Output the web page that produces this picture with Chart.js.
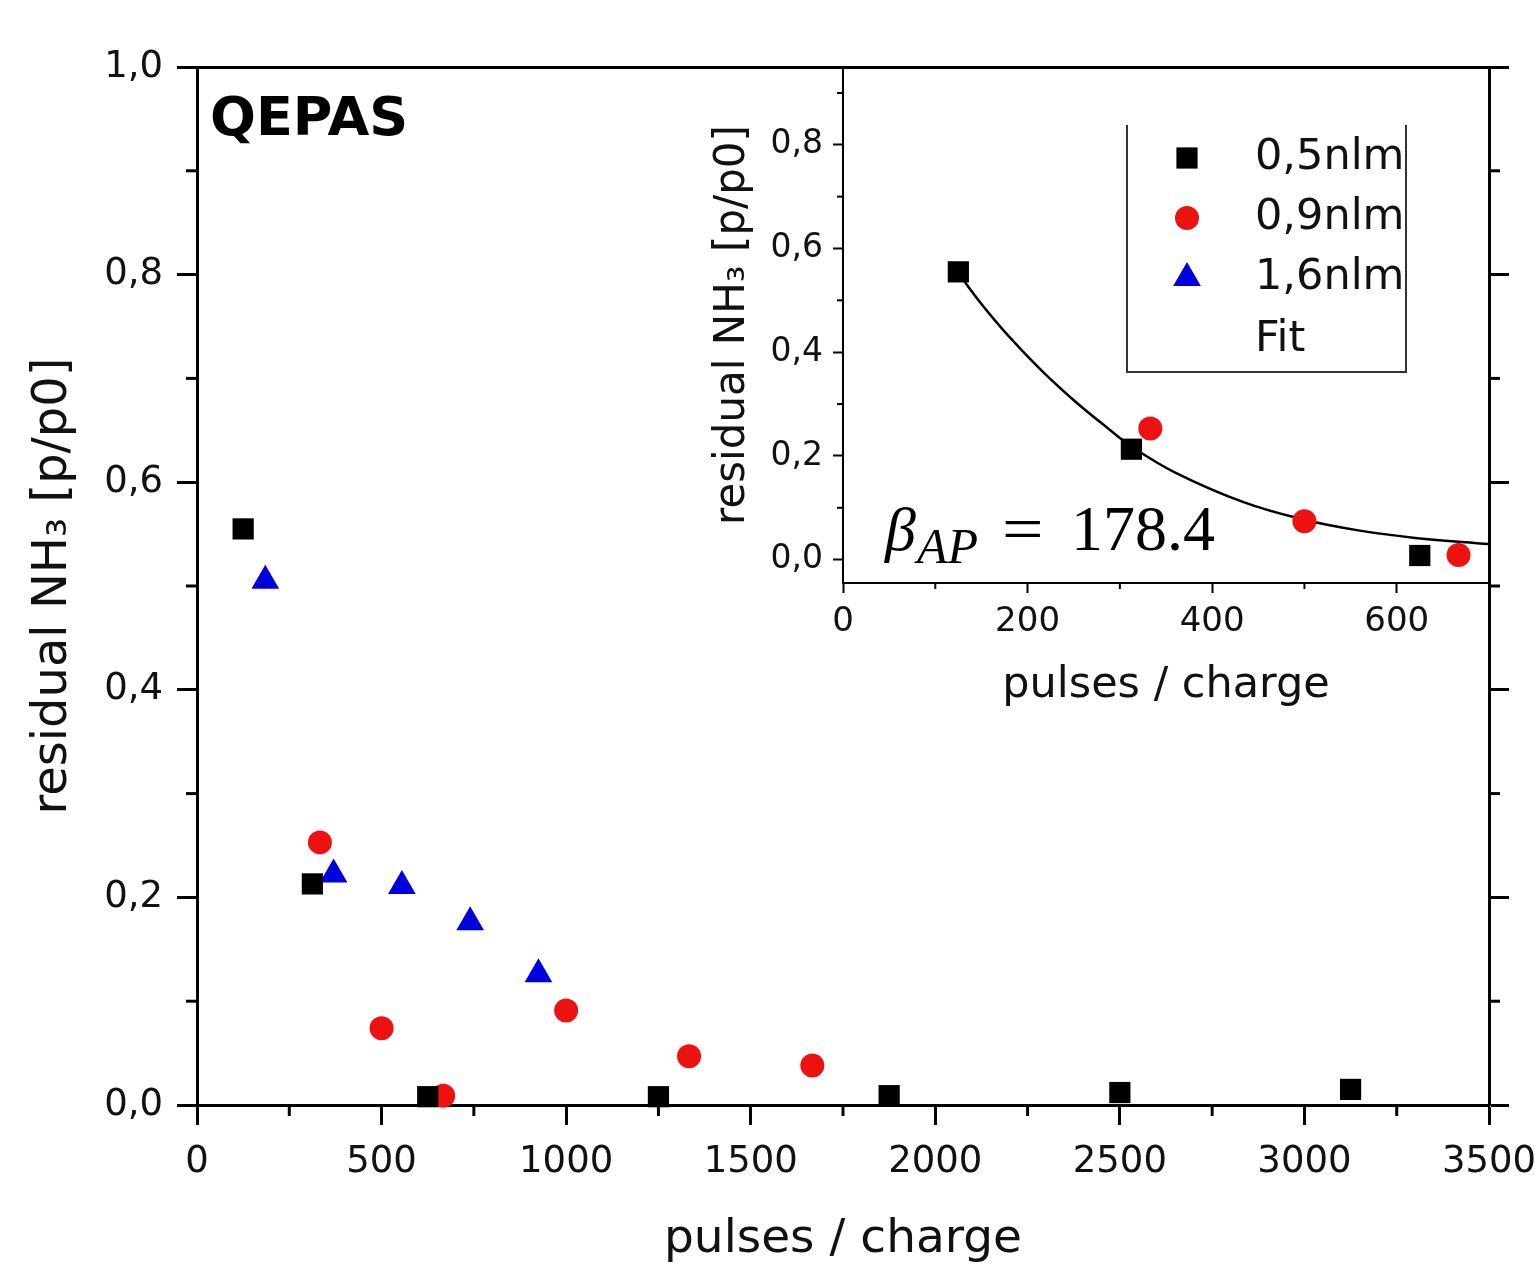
<!DOCTYPE html>
<html>
<head>
<meta charset="utf-8">
<title>QEPAS residual NH3</title>
<script src="https://cdn.jsdelivr.net/npm/chart.js@4.4.1/dist/chart.umd.min.js"></script>
<style>
  html, body { margin: 0; padding: 0; background: #fff; }
  #wrap { position: relative; width: 1535px; height: 1264px; overflow: hidden; background: #fff; }
  #mainChart { position: absolute; left: 0; top: 0; }
  #insetChart { position: absolute; left: 690px; top: 40px; }
</style>
</head>
<body>
<div id="wrap">
  <canvas id="mainChart" width="1535" height="1264"></canvas>
  <canvas id="insetChart" width="845" height="690"></canvas>
</div>
<script>
// --- data ---
const x05 = [125, 312.5, 625, 1250, 1875, 2500, 3125];
const y05 = [0.555, 0.213, 0.008, 0.008, 0.009, 0.012, 0.015];

const x09 = [333, 500, 667, 1000, 1333, 1667];
const y09 = [0.253, 0.074, 0.009, 0.091, 0.047, 0.038];

const x16 = [185, 370, 555, 740, 925];
const y16 = [0.505, 0.222, 0.211, 0.176, 0.126];

// fit curve of the inset (beta_AP = 178.4)
const fitX = [128, 150, 179, 215, 251, 288, 313, 360, 434, 500, 560, 620, 700];
const fitY = [0.545, 0.493, 0.432, 0.365, 0.306, 0.252, 0.218, 0.168, 0.111, 0.077, 0.056, 0.042, 0.030];

// ticks
const mainXTicks = [0, 500, 1000, 1500, 2000, 2500, 3000, 3500];
const mainXMinor = [250, 750, 1250, 1750, 2250, 2750, 3250];
const mainYTicks = [0, 0.2, 0.4, 0.6, 0.8, 1.0];
const mainYMinor = [0.1, 0.3, 0.5, 0.7, 0.9];
const insetXTicks = [0, 200, 400, 600];
const insetXMinor = [100, 300, 500];
const insetYTicks = [0, 0.2, 0.4, 0.6, 0.8];
const insetYMinor = [0.1, 0.3, 0.5, 0.7, 0.9];

const FONT = '"DejaVu Sans", sans-serif';
Chart.defaults.font.family = FONT;
Chart.defaults.color = '#111';

const BLACK = '#000000';
const RED = '#ee1111';
const BLUE = '#0000dd';

const pts = (xs, ys) => xs.map((x, i) => ({ x: x, y: ys[i] }));
const upTo = (xs, ys, lim) => pts(xs, ys).filter(p => p.x <= lim);
const comma = v => v.toFixed(1).replace('.', ',');
const fixTicks = vals => s => { s.ticks = vals.map(v => ({ value: v })); };

// fix the box size of an axis and drop the extra label padding
const sizeW = w => s => { s.width = w; s.paddingTop = 0; s.paddingBottom = 0; };
const sizeH = h => s => { s.height = h; s.paddingLeft = 0; s.paddingRight = 0; };

function axisStyle(len, w) {
  return {
    border: { display: true, color: '#000', width: w },
    grid: { display: true, drawOnChartArea: false, drawTicks: true, tickLength: len, tickWidth: w, tickColor: '#000' }
  };
}
function frameOnly(w) {
  return {
    border: { display: true, color: '#000', width: w },
    grid: { display: false, drawTicks: false },
    ticks: { display: false }
  };
}

// short ticks between the labelled ones
function minorTicks(list) {
  return {
    id: 'minorTicks',
    beforeDatasetsDraw(chart) {
      const ctx = chart.ctx;
      ctx.save();
      ctx.strokeStyle = '#000';
      list.forEach(m => {
        const s = chart.scales[m.id];
        ctx.lineWidth = m.width;
        m.values.forEach(v => {
          const p = s.getPixelForValue(v);
          ctx.beginPath();
          if (s.position === 'bottom') { ctx.moveTo(p, s.top); ctx.lineTo(p, s.top + m.len); }
          else if (s.position === 'left') { ctx.moveTo(s.right, p); ctx.lineTo(s.right - m.len, p); }
          else { ctx.moveTo(s.left, p); ctx.lineTo(s.left + m.len, p); }
          ctx.stroke();
        });
      });
      ctx.restore();
    }
  };
}

const qepasLabel = {
  id: 'qepasLabel',
  afterDraw(chart) {
    const ctx = chart.ctx;
    ctx.save();
    ctx.font = 'bold 54px ' + FONT;
    ctx.fillStyle = '#000';
    ctx.textBaseline = 'alphabetic';
    ctx.fillText('QEPAS', 210, 135);
    ctx.restore();
  }
};

// === main chart ===
new Chart(document.getElementById('mainChart'), {
  type: 'scatter',
  data: {
    datasets: [
      { label: '0,5nlm', data: pts(x05, y05), pointStyle: 'rect', pointRadius: 15, backgroundColor: BLACK, borderColor: BLACK, borderWidth: 0, clip: false },
      { label: '0,9nlm', data: pts(x09, y09), pointStyle: 'circle', pointRadius: 12, backgroundColor: RED, borderColor: RED, borderWidth: 0, clip: false },
      { label: '1,6nlm', data: pts(x16, y16), pointStyle: 'triangle', pointRadius: 16, backgroundColor: BLUE, borderColor: BLUE, borderWidth: 0, clip: false }
    ]
  },
  options: {
    responsive: false,
    animation: false,
    layout: { padding: 0 },
    plugins: { legend: { display: false }, tooltip: { enabled: false } },
    scales: {
      x: {
        type: 'linear', position: 'bottom', min: 0, max: 3500,
        afterBuildTicks: fixTicks(mainXTicks),
        afterFit: sizeH(159),
        ticks: { font: { size: 37 }, padding: 15, maxRotation: 0, autoSkip: false, callback: v => String(v) },
        title: { display: true, text: 'pulses / charge', font: { size: 47, lineHeight: 1 }, padding: { top: 0, bottom: 1 } },
        ...axisStyle(20, 3)
      },
      y: {
        type: 'linear', position: 'left', min: 0, max: 1,
        afterBuildTicks: fixTicks(mainYTicks),
        afterFit: sizeW(197),
        ticks: { font: { size: 37 }, padding: 14, autoSkip: false, callback: v => comma(v) },
        title: { display: true, text: 'residual NH₃ [p/p0]', font: { size: 48, lineHeight: 1 }, padding: { top: 30, bottom: 0 } },
        ...axisStyle(20, 3)
      },
      x2: {
        type: 'linear', position: 'top', min: 0, max: 3500,
        afterFit: sizeH(67),
        ...frameOnly(3)
      },
      y2: {
        type: 'linear', position: 'right', min: 0, max: 1,
        afterBuildTicks: fixTicks(mainYTicks),
        afterFit: sizeW(46),
        ticks: { display: false },
        ...axisStyle(20, 3)
      }
    }
  },
  plugins: [
    minorTicks([
      { id: 'x', values: mainXMinor, len: 11, width: 3 },
      { id: 'y', values: mainYMinor, len: 11, width: 3 },
      { id: 'y2', values: mainYMinor, len: 11, width: 3 }
    ]),
    qepasLabel
  ]
});

// === inset: legend and fit parameter ===
const insetNotes = {
  id: 'insetNotes',
  afterDraw(chart) {
    const ctx = chart.ctx;
    ctx.save();
    // legend frame (sides and bottom)
    ctx.strokeStyle = '#333';
    ctx.lineWidth = 2;
    ctx.beginPath();
    ctx.moveTo(437, 85); ctx.lineTo(437, 332); ctx.lineTo(716, 332); ctx.lineTo(716, 85);
    ctx.stroke();
    const rows = [118, 178, 238, 300];
    chart.data.datasets.forEach((ds, i) => {
      const y = rows[Math.min(i, 3)];
      if (ds.pointStyle && !ds.showLine) {
        ctx.fillStyle = ds.backgroundColor;
        Chart.helpers.drawPoint(ctx, {
          pointStyle: ds.pointStyle, radius: ds.pointRadius, rotation: 0, borderWidth: 0
        }, 497, y);
      }
      ctx.fillStyle = '#111';
      ctx.font = '43px ' + FONT;
      ctx.textBaseline = 'middle';
      ctx.textAlign = 'left';
      ctx.fillText(ds.label, 565, y);
    });
    // beta_AP = 178.4
    ctx.fillStyle = '#000';
    ctx.textBaseline = 'alphabetic';
    ctx.font = 'italic 62px "Liberation Serif", serif';
    ctx.fillText('β', 195, 510);
    ctx.font = 'italic 50px "Liberation Serif", serif';
    ctx.fillText('AP', 227, 523);
    ctx.font = '64px "Liberation Serif", serif';
    ctx.save();
    ctx.translate(312, 510);
    ctx.scale(1.15, 1);
    ctx.fillText('=', 0, 0);
    ctx.restore();
    ctx.fillText('178.4', 381, 510);
    ctx.restore();
  }
};

new Chart(document.getElementById('insetChart'), {
  type: 'scatter',
  data: {
    datasets: [
      { label: '0,5nlm', data: upTo(x05, y05, 700), pointStyle: 'rect', pointRadius: 15, backgroundColor: BLACK, borderColor: BLACK, borderWidth: 0, clip: false, order: 0 },
      { label: '0,9nlm', data: upTo(x09, y09, 700), pointStyle: 'circle', pointRadius: 12, backgroundColor: RED, borderColor: RED, borderWidth: 0, clip: false, order: 0 },
      { label: '1,6nlm', data: [], pointStyle: 'triangle', pointRadius: 16, backgroundColor: BLUE, borderColor: BLUE, borderWidth: 0, order: 0 },
      { label: 'Fit', data: pts(fitX, fitY), showLine: true, pointRadius: 0, borderColor: '#000', borderWidth: 2.5, tension: 0.4, order: 1 }
    ]
  },
  options: {
    responsive: false,
    animation: false,
    layout: { padding: 0 },
    plugins: { legend: { display: false }, tooltip: { enabled: false } },
    scales: {
      x: {
        type: 'linear', position: 'bottom', min: 0, max: 700,
        afterBuildTicks: fixTicks(insetXTicks),
        afterFit: sizeH(147),
        ticks: { font: { size: 34 }, padding: 9, maxRotation: 0, autoSkip: false, callback: v => String(v) },
        title: { display: true, text: 'pulses / charge', font: { size: 43, lineHeight: 1 }, padding: { top: 0, bottom: 23 } },
        ...axisStyle(10, 2)
      },
      y: {
        type: 'linear', position: 'left', min: -0.045, max: 0.95,
        afterBuildTicks: fixTicks(insetYTicks),
        afterFit: sizeW(153),
        ticks: { font: { size: 33 }, padding: 10, autoSkip: false, callback: v => comma(v) },
        title: { display: true, text: 'residual NH₃ [p/p0]', font: { size: 42, lineHeight: 1 }, padding: { top: 22, bottom: 0 } },
        ...axisStyle(10, 2)
      },
      x2: {
        type: 'linear', position: 'top', min: 0, max: 700,
        afterFit: sizeH(27),
        ...frameOnly(2)
      },
      y2: {
        type: 'linear', position: 'right', min: -0.045, max: 0.95,
        afterFit: sizeW(46),
        ...frameOnly(3)
      }
    }
  },
  plugins: [
    minorTicks([
      { id: 'x', values: insetXMinor, len: 6, width: 2 },
      { id: 'y', values: insetYMinor, len: 6, width: 2 }
    ]),
    insetNotes
  ]
});
</script>
</body>
</html>
